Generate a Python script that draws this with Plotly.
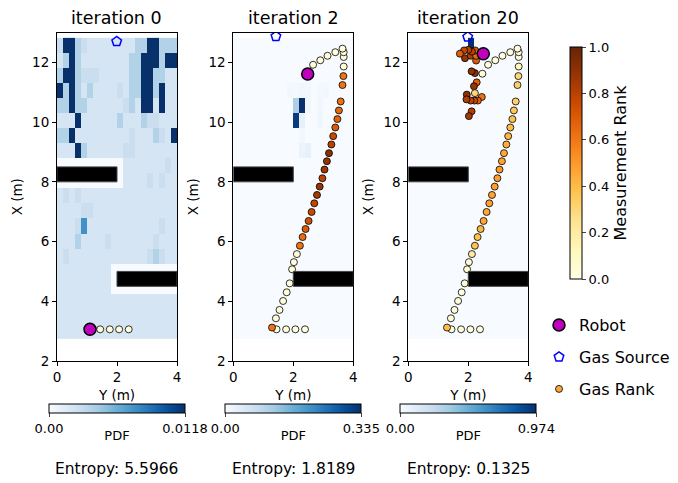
import numpy as np
import plotly.graph_objects as go

# ------------------------------------------------------------------ data
titles = ["iteration 0", "iteration 2", "iteration 20"]
entropy = [5.5966, 1.8189, 0.1325]
pdf_max = [0.0118, 0.335, 0.974]
pdf_max_labels = ["0.0118", "0.335", "0.974"]

# PDF grid: 20 columns over Y = 0..4 m, 20 rows over X = 2.75..12.82 m
grid_Y_range = [0.0, 4.0]
grid_X_range = [2.75, 12.82]
n_cols, n_rows = 20, 20

# iteration 0 PDF levels (rows listed from top to bottom)
Z, B, S, L, M, D = 0.0, 0.0020, 0.0027, 0.0037, 0.0074, 0.0118
pdf_it0_rows = [
    [S, D, D, L, S, B, B, B, B, B, B, B, B, L, L, D, D, L, L, L],
    [B, L, D, L, B, B, B, B, B, B, B, B, L, L, D, D, D, L, D, D],
    [L, D, D, L, S, S, S, B, B, B, B, B, L, L, D, D, L, L, B, B],
    [D, L, D, L, B, L, B, B, B, B, S, B, L, L, D, D, L, D, B, B],
    [L, L, D, L, L, B, B, B, B, B, B, S, L, B, D, D, B, D, B, B],
    [B, B, B, D, B, B, B, B, B, B, L, B, B, B, L, S, S, B, B, B],
    [L, L, D, B, B, B, B, B, B, B, B, B, S, B, B, B, L, S, B, D],
    [B, B, B, D, L, B, B, B, B, B, B, S, S, B, B, B, B, B, B, B],
    [Z, Z, Z, Z, Z, Z, Z, Z, Z, Z, Z, B, B, B, B, B, B, B, S, B],
    [Z, Z, Z, Z, Z, Z, Z, Z, Z, Z, Z, B, B, B, B, S, B, S, B, B],
    [B, S, B, S, B, B, B, B, B, B, B, B, B, B, B, B, B, B, B, B],
    [B, B, B, B, S, S, B, B, B, B, B, B, B, B, B, B, B, B, B, B],
    [B, B, B, S, M, B, B, B, B, B, B, B, B, B, B, B, B, S, B, B],
    [B, B, B, L, B, B, B, B, S, B, B, B, B, B, B, B, S, B, B, B],
    [B, S, B, B, B, B, B, B, B, B, B, B, B, B, B, S, L, S, B, B],
    [B, B, B, B, B, B, B, B, B, Z, Z, Z, Z, Z, Z, Z, Z, Z, Z, Z],
    [B, B, B, B, B, B, B, B, B, Z, Z, Z, Z, Z, Z, Z, Z, Z, Z, Z],
    [B] * 20,
    [B] * 20,
    [B] * 20,
]
# iteration 2 / 20: non-zero cells (row from top, column, value)
pdf_it2_cells = [
    (2, 12, 0.006),
    (3, 9, 0.010), (3, 10, 0.008), (3, 11, 0.014), (3, 12, 0.010), (3, 14, 0.008), (3, 15, 0.010),
    (4, 10, 0.110), (4, 11, 0.335), (4, 12, 0.012), (4, 14, 0.010),
    (5, 10, 0.320), (5, 11, 0.030), (5, 14, 0.012),
    (6, 11, 0.010),
    (7, 11, 0.020), (7, 12, 0.025),
]
pdf_it20_cells = [(0, 10, 0.974)]

# obstacles: (Y0, Y1, X0, X1)
obstacles = [(0.0, 2.0, 8.0, 8.5), (2.0, 4.0, 4.5, 5.0)]

# robot & estimated gas source per iteration
robot_Y = [1.10, 2.48, 2.50]
robot_X = [3.06, 11.61, 12.29]
source_Y = [1.99, 1.42, 1.98]
source_X = [12.70, 12.87, 12.85]

# measurement trajectory (Y, X)
traj_Y = [1.44, 1.76, 2.07, 2.39, 1.29,
          1.42, 1.54, 1.66, 1.78, 1.88, 1.96, 2.02, 2.12, 2.22, 2.31, 2.41, 2.51, 2.61, 2.70,
          2.79, 2.88, 2.97, 3.04, 3.12, 3.19, 3.27, 3.33, 3.40, 3.47, 3.52, 3.58, 3.64, 3.67, 3.68,
          3.68, 3.68, 3.64, 3.40, 3.14, 2.90, 2.66, 2.47,
          2.28, 2.19, 2.22, 2.45, 2.32, 2.20, 2.08, 1.95, 1.94, 2.11, 2.02,
          2.22, 2.11, 2.26, 1.89, 2.08, 2.26, 2.23, 2.12, 2.00, 1.86, 1.72]
traj_X = [3.06, 3.06, 3.06, 3.06, 3.12,
          3.43, 3.71, 4.01, 4.30, 4.60, 5.07, 5.31, 5.58, 5.86, 6.15, 6.42, 6.69, 6.99, 7.28,
          7.56, 7.84, 8.12, 8.41, 8.69, 8.96, 9.25, 9.53, 9.82, 10.10, 10.39, 10.69, 11.24, 11.54, 11.86,
          12.18, 12.34, 12.46, 12.34, 12.22, 12.07, 11.92, 11.62,
          11.33, 11.20, 10.97, 10.84, 10.72, 10.72, 10.72, 10.92, 10.76, 10.36, 10.20,
          11.64, 11.70, 12.06, 12.14, 12.22, 12.22, 12.40, 12.36, 12.42, 12.40, 12.29]
rank_it0 = [0.04, 0.03, 0.04, 0.03]
rank_it2 = [0.04, 0.03, 0.04, 0.03, 0.62,
            0.03, 0.04, 0.03, 0.04, 0.03, 0.04, 0.03, 0.05, 0.62, 0.64, 0.70, 0.74, 0.76, 0.78,
            0.85, 0.88, 0.79, 0.86, 0.89, 0.91, 0.80, 0.76, 0.70, 0.67, 0.65, 0.63, 0.62, 0.61, 0.05,
            0.03, 0.04, 0.03, 0.03, 0.04, 0.03, 0.04, 0.03]
rank_it20 = [0.03, 0.03, 0.03, 0.03, 0.40,
             0.03, 0.04, 0.03, 0.04, 0.05, 0.04, 0.05, 0.20, 0.37, 0.38, 0.42, 0.46, 0.46, 0.48,
             0.47, 0.48, 0.49, 0.50, 0.47, 0.46, 0.44, 0.42, 0.40, 0.38, 0.36, 0.32, 0.33, 0.30, 0.12,
             0.03, 0.03, 0.03, 0.03, 0.03, 0.03, 0.03, 0.04,
             0.68, 0.88, 0.30, 0.62, 0.68, 0.76, 0.80, 0.90, 0.82, 0.82, 0.85,
             0.90, 0.90, 0.70, 0.88, 0.82, 0.65, 0.70, 0.80, 0.80, 0.78, 0.68]
ranks = [rank_it0, rank_it2, rank_it20]

# ------------------------------------------------------------------ styling
PAGE_W, PAGE_H = 678, 483
BODY = 8                          # default page body margin
W, H = PAGE_W - BODY, PAGE_H - BODY
FONT = "DejaVu Sans"
BLUES = [[0.0, "#f7fbff"], [0.125, "#deebf7"], [0.25, "#c6dbef"], [0.375, "#9ecae1"],
         [0.5, "#6baed6"], [0.625, "#4292c6"], [0.75, "#2171b5"], [0.875, "#08519c"],
         [1.0, "#08306b"]]
YLORBR = [[0.0, "#ffffe5"], [0.125, "#fff7bc"], [0.25, "#fee391"], [0.375, "#fec44f"],
          [0.5, "#fe9929"], [0.625, "#ec7014"], [0.75, "#cc4c02"], [0.875, "#993404"],
          [1.0, "#662506"]]

panel_left = [57.0, 233.3, 408.3]
panel_w = 120.0
panel_top, panel_bottom = 32.5, 361.0


def fx(p):
    return (p - BODY) / W


def fy(p):
    return 1 - (p - BODY) / H


x_edges = np.linspace(grid_Y_range[0], grid_Y_range[1], n_cols + 1)
y_edges = np.linspace(grid_X_range[0], grid_X_range[1], n_rows + 1)


def grid_from_cells(cells):
    g = np.zeros((n_rows, n_cols))
    for r, c, v in cells:
        g[r, c] = v
    return g


grids = [np.array(pdf_it0_rows), grid_from_cells(pdf_it2_cells), grid_from_cells(pdf_it20_cells)]
n_pts = [len(rank_it0), len(rank_it2), len(rank_it20)]

fig = go.Figure()
layout = dict(
    width=W, height=H, margin=dict(l=0, r=0, t=0, b=0, autoexpand=False),
    paper_bgcolor="white", plot_bgcolor="white",
    font=dict(family=FONT, size=13, color="black"),
    annotations=[], shapes=[],
)

for i in range(3):
    sx = "" if i == 0 else str(i + 1)
    xa, ya = "x" + sx, "y" + sx
    ca = "coloraxis" + ("" if i == 0 else str(i + 1))
    fig.add_trace(go.Heatmap(z=grids[i][::-1], x=x_edges, y=y_edges, coloraxis=ca,
                             xaxis=xa, yaxis=ya, hoverinfo="skip"))
    n = n_pts[i]
    fig.add_trace(go.Scatter(x=traj_Y[:n], y=traj_X[:n], mode="markers", xaxis=xa, yaxis=ya,
                             showlegend=False,
                             marker=dict(size=7, color=ranks[i], coloraxis="coloraxis4",
                                         line=dict(color="black", width=0.8))))
    fig.add_trace(go.Scatter(x=[robot_Y[i]], y=[robot_X[i]], mode="markers", xaxis=xa, yaxis=ya,
                             showlegend=False,
                             marker=dict(size=12, color="#bf00bf", line=dict(color="black", width=1.5))))
    fig.add_trace(go.Scatter(x=[source_Y[i]], y=[source_X[i]], mode="markers", xaxis=xa, yaxis=ya,
                             showlegend=False,
                             marker=dict(size=10, symbol="pentagon-open", color="blue",
                                         line=dict(color="blue", width=1.5))))
    for (y0, y1, x0, x1) in obstacles:
        layout["shapes"].append(dict(type="rect", xref=xa, yref=ya, x0=y0, x1=y1, y0=x0, y1=x1,
                                     fillcolor="black", line=dict(color="#444", width=1),
                                     layer="above"))
    l = panel_left[i]
    layout["xaxis" + sx] = dict(
        domain=[fx(l), fx(l + panel_w)], range=[0, 4], anchor=ya, tickvals=[0, 2, 4],
        showline=True, mirror=True, linecolor="black", linewidth=1, ticks="outside",
        ticklen=4, tickwidth=1, tickcolor="black", showgrid=False, zeroline=False,
        tickfont=dict(size=13.5), title=dict(text="Y (m)", font=dict(size=13.5), standoff=6))
    layout["yaxis" + sx] = dict(
        domain=[fy(panel_bottom), fy(panel_top)], range=[2, 13], anchor=xa,
        tickvals=[2, 4, 6, 8, 10, 12],
        showline=True, mirror=True, linecolor="black", linewidth=1, ticks="outside",
        ticklen=4, tickwidth=1, tickcolor="black", showgrid=False, zeroline=False,
        tickfont=dict(size=13.5), title=dict(text="X (m)", font=dict(size=13.5), standoff=6))
    cx = l + panel_w / 2
    layout[ca] = dict(
        colorscale=BLUES, cmin=0, cmax=pdf_max[i],
        colorbar=dict(orientation="h", x=fx(cx), xanchor="center", y=fy(404), yanchor="top",
                      len=136, lenmode="pixels", thickness=9, thicknessmode="pixels",
                      outlinewidth=1, outlinecolor="black", ticks="outside", ticklen=4,
                      tickvals=[0, pdf_max[i]], ticktext=["0.00", pdf_max_labels[i]],
                      tickfont=dict(size=13), xpad=0, ypad=0,
                      title=dict(text="PDF", side="bottom", font=dict(size=13))))
    layout["annotations"].append(dict(text=titles[i], x=fx(cx), y=fy(18), xref="paper",
                                      yref="paper", showarrow=False, xanchor="center",
                                      yanchor="middle", font=dict(size=17.5)))
    layout["annotations"].append(dict(text="Entropy: %.4f" % entropy[i], x=fx(cx), y=fy(469),
                                      xref="paper", yref="paper", showarrow=False,
                                      xanchor="center", yanchor="middle", font=dict(size=15.5)))

layout["coloraxis4"] = dict(
    colorscale=YLORBR, cmin=0, cmax=1,
    colorbar=dict(x=fx(570), xanchor="left", y=fy(47), yanchor="top", len=232, lenmode="pixels",
                  thickness=12, thicknessmode="pixels", outlinewidth=1, outlinecolor="black",
                  ticks="outside", ticklen=4, tickvals=[0, 0.2, 0.4, 0.6, 0.8, 1.0],
                  ticktext=["0.0", "0.2", "0.4", "0.6", "0.8", "1.0"], tickfont=dict(size=13),
                  xpad=0, ypad=0,
                  title=dict(text="Measurement Rank", side="right", font=dict(size=16))))

# legend entries (three separate legends for exact spacing)
legend_items = [
    ("Robot", dict(size=12, color="#bf00bf", line=dict(color="black", width=1.5)), 325),
    ("Gas Source", dict(size=10, symbol="pentagon-open", color="blue",
                        line=dict(color="blue", width=1.5)), 357),
    ("Gas Rank", dict(size=7, color="#f9a83e", line=dict(color="black", width=0.8)), 389),
]
for j, (name, mk, ypx) in enumerate(legend_items):
    lg = "legend" if j == 0 else "legend%d" % (j + 1)
    fig.add_trace(go.Scatter(x=[None], y=[None], mode="markers", name=name, marker=mk,
                             legend=lg, showlegend=True))
    layout[lg] = dict(x=fx(539), xanchor="left", y=fy(ypx), yanchor="middle",
                      bgcolor="rgba(0,0,0,0)", borderwidth=0, font=dict(size=16),
                      itemwidth=30)

fig.update_layout(**layout)
fig.write_html("out.html")
